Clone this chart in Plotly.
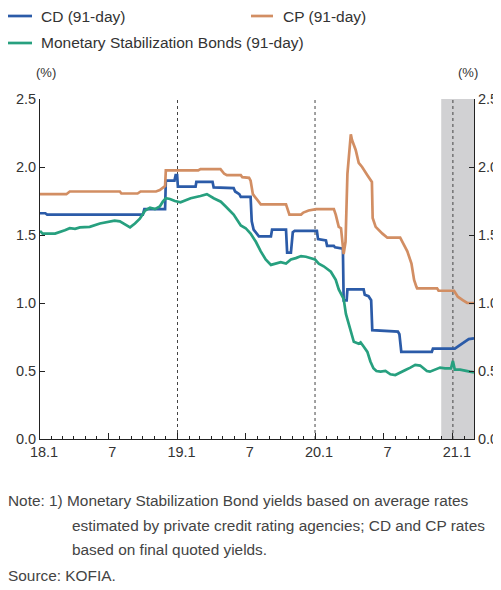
import plotly.graph_objects as go

# CD (91-day)
cd_dates = ['2018-01-01', '2018-01-15', '2018-01-20', '2018-10-01', '2018-10-05', '2018-11-29',
            '2018-12-01', '2018-12-24', '2018-12-27', '2018-12-31', '2019-01-02', '2019-02-18',
            '2019-02-20', '2019-04-04', '2019-04-07', '2019-05-30', '2019-06-03', '2019-06-14',
            '2019-06-18', '2019-07-14', '2019-07-17', '2019-07-22', '2019-08-05', '2019-09-06',
            '2019-09-09', '2019-10-16', '2019-10-19', '2019-10-29', '2019-11-03', '2019-11-08',
            '2020-01-06', '2020-01-09', '2020-01-30', '2020-02-02', '2020-02-20', '2020-02-23',
            '2020-03-15', '2020-03-17', '2020-03-25', '2020-03-27', '2020-05-09', '2020-05-12',
            '2020-05-22', '2020-05-29', '2020-06-01', '2020-08-08', '2020-08-12', '2020-08-17',
            '2020-11-06', '2020-11-09', '2021-01-06', '2021-01-14', '2021-01-22', '2021-02-02',
            '2021-02-12', '2021-02-26']
cd_vals = [1.66, 1.66, 1.65, 1.65, 1.69, 1.69,
           1.90, 1.90, 1.94, 1.94, 1.855, 1.855,
           1.89, 1.89, 1.85, 1.845, 1.82, 1.80,
           1.78, 1.78, 1.60, 1.54, 1.49, 1.49,
           1.54, 1.54, 1.37, 1.37, 1.52, 1.53,
           1.53, 1.47, 1.46, 1.42, 1.42, 1.41,
           1.40, 1.02, 1.02, 1.10, 1.10, 1.06,
           1.05, 1.02, 0.80, 0.79, 0.77, 0.64,
           0.64, 0.665, 0.665, 0.68, 0.70, 0.72,
           0.735, 0.74]

# CP (91-day)
cp_dates = ['2018-01-01', '2018-03-12', '2018-03-21', '2018-08-01', '2018-08-05', '2018-09-17',
            '2018-09-25', '2018-11-05', '2018-11-15', '2018-11-25', '2018-11-29', '2018-12-01',
            '2019-02-25', '2019-03-03', '2019-04-25', '2019-05-05', '2019-05-12', '2019-06-18',
            '2019-06-22', '2019-07-10', '2019-07-14', '2019-07-20', '2019-07-25', '2019-08-05',
            '2019-08-10', '2019-10-16', '2019-10-25', '2019-11-25', '2019-12-01', '2019-12-15',
            '2020-01-04', '2020-02-20', '2020-02-25', '2020-03-04', '2020-03-10', '2020-03-17',
            '2020-03-22', '2020-03-27', '2020-04-05', '2020-04-08', '2020-04-18', '2020-04-26',
            '2020-05-05', '2020-05-19', '2020-05-31', '2020-06-02', '2020-06-10', '2020-06-28',
            '2020-07-11', '2020-08-14', '2020-08-22', '2020-09-02', '2020-09-13', '2020-09-20',
            '2020-09-26', '2020-09-28', '2020-11-20', '2020-11-24', '2021-01-04', '2021-01-14',
            '2021-01-28', '2021-02-08', '2021-02-26']
cp_vals = [1.80, 1.80, 1.82, 1.82, 1.805, 1.805,
           1.82, 1.82, 1.83, 1.855, 1.86, 1.975,
           1.975, 1.985, 1.985, 1.95, 1.94, 1.94,
           1.925, 1.92, 1.90, 1.80, 1.78, 1.745,
           1.725, 1.725, 1.65, 1.65, 1.665, 1.68,
           1.69, 1.69, 1.65, 1.56, 1.55, 1.36,
           1.45, 1.95, 2.24, 2.20, 2.125, 2.03,
           2.00, 1.94, 1.89, 1.625, 1.56, 1.51,
           1.48, 1.48, 1.44, 1.38, 1.29, 1.17,
           1.12, 1.108, 1.108, 1.09, 1.09, 1.046,
           1.02, 1.00, 1.00]

# Monetary Stabilization Bonds (91-day)
msb_dates = ['2018-01-01', '2018-01-08', '2018-02-10', '2018-02-23', '2018-03-08', '2018-03-21',
             '2018-04-04', '2018-04-17', '2018-05-13', '2018-06-09', '2018-07-05', '2018-07-18',
             '2018-08-01', '2018-08-14', '2018-08-28', '2018-09-10', '2018-09-23', '2018-10-07',
             '2018-10-20', '2018-11-02', '2018-11-15', '2018-11-23', '2018-12-01', '2018-12-12',
             '2018-12-25', '2019-01-09', '2019-02-05', '2019-03-03', '2019-03-20', '2019-04-07',
             '2019-04-26', '2019-05-09', '2019-05-30', '2019-06-18', '2019-07-01', '2019-07-14',
             '2019-07-28', '2019-08-10', '2019-08-23', '2019-09-06', '2019-09-19', '2019-10-02',
             '2019-10-16', '2019-10-29', '2019-11-11', '2019-11-25', '2019-12-08', '2019-12-21',
             '2020-01-01', '2020-01-11', '2020-01-24', '2020-02-12', '2020-02-25', '2020-03-04',
             '2020-03-17', '2020-03-23', '2020-03-31', '2020-04-05', '2020-04-13', '2020-04-26',
             '2020-05-01', '2020-05-09', '2020-05-19', '2020-05-27', '2020-06-04', '2020-06-12',
             '2020-06-23', '2020-07-06', '2020-07-19', '2020-08-01', '2020-08-14', '2020-08-28',
             '2020-09-10', '2020-09-23', '2020-10-06', '2020-10-14', '2020-10-24', '2020-11-01',
             '2020-11-14', '2020-11-28', '2020-12-11', '2020-12-27', '2021-01-01', '2021-01-06',
             '2021-01-20', '2021-02-02', '2021-02-15', '2021-02-26']
msb_vals = [1.53, 1.51, 1.51, 1.52, 1.535, 1.55,
            1.545, 1.556, 1.56, 1.585, 1.60, 1.605,
            1.60, 1.58, 1.556, 1.585, 1.62, 1.68,
            1.70, 1.69, 1.71, 1.745, 1.77, 1.765,
            1.75, 1.74, 1.77, 1.787, 1.80, 1.77,
            1.745, 1.71, 1.65, 1.57, 1.55, 1.51,
            1.45, 1.38, 1.32, 1.28, 1.29, 1.30,
            1.29, 1.32, 1.33, 1.345, 1.34, 1.33,
            1.32, 1.29, 1.27, 1.23, 1.17, 1.10,
            1.03, 0.92, 0.84, 0.78, 0.715, 0.70,
            0.71, 0.68, 0.64, 0.57, 0.52, 0.50,
            0.495, 0.50, 0.476, 0.47, 0.49, 0.507,
            0.525, 0.545, 0.54, 0.52, 0.50, 0.495,
            0.51, 0.525, 0.52, 0.52, 0.574, 0.51,
            0.51, 0.50, 0.495, 0.49]

series_names = ['CD (91-day)', 'CP (91-day)', 'Monetary Stabilization Bonds (91-day)']
series_colors = ['#2B5BA8', '#D28E63', '#27A07F']

tick_vals = ['2018-01-01', '2018-07-01', '2019-01-01', '2019-07-01',
             '2020-01-01', '2020-07-01', '2021-01-01']
tick_text = ['18.1', '7', '19.1', '7', '20.1', '7', '21.1']
year_lines = ['2019-01-01', '2020-01-01', '2021-01-01']
shade_start, x_end = '2020-12-01', '2021-02-26'

FONT = 'Liberation Sans, Arial, sans-serif'
TXT = '#333333'

# page body has an 8px margin, so the figure is drawn 8px in from the corner
OFF = 8
W, H = 501 - OFF, 590 - OFF
# plot area in window pixels
L, R, T, B = 40, 474, 99, 439


def px(x):
    return (x - L) / (R - L)


def py(y):
    return (B - y) / (B - T)


fig = go.Figure()
for xs, ys, nm, col in zip([cd_dates, cp_dates, msb_dates], [cd_vals, cp_vals, msb_vals],
                           series_names, series_colors):
    fig.add_trace(go.Scatter(x=xs, y=ys, name=nm, mode='lines', showlegend=False,
                             line=dict(color=col, width=2.7)))
# dummy trace for the right axis
fig.add_trace(go.Scatter(x=[x_end], y=[0], yaxis='y2', mode='markers',
                         marker=dict(opacity=0), showlegend=False, hoverinfo='skip'))

shapes = [dict(type='rect', xref='x', yref='y', x0=shade_start, x1=x_end, y0=0, y1=2.5,
               fillcolor='#D1D1D3', line=dict(width=0), layer='below')]
for d in year_lines:
    shapes.append(dict(type='line', xref='x', yref='y', x0=d, x1=d, y0=0, y1=2.5,
                       line=dict(color='#444444', width=1, dash='dot'), layer='below'))

# legend (drawn by hand so the layout matches)
legend_pos = [(8, 32, 39, 16), (251, 273, 281, 16), (8, 32, 39, 43)]
for (x0, x1, xt, yy), nm, col in zip(legend_pos, series_names, series_colors):
    shapes.append(dict(type='line', xref='paper', yref='paper', x0=px(x0), x1=px(x1),
                       y0=py(yy), y1=py(yy), line=dict(color=col, width=2.7)))
    fig.add_annotation(text=nm, xref='paper', yref='paper', x=px(xt), y=py(yy),
                       xanchor='left', yanchor='middle', showarrow=False,
                       font=dict(size=15.5, color=TXT, family=FONT))

axis_common = dict(range=[0, 2.5], dtick=0.5, tickformat='.1f', ticks='inside', ticklen=5,
                   tickcolor='#222222', showline=True, linecolor='#222222', linewidth=1,
                   showgrid=False, zeroline=False, fixedrange=True, automargin=False,
                   tickfont=dict(size=14.5, color=TXT, family=FONT))

fig.update_layout(
    width=W, height=H,
    margin=dict(l=L - OFF, r=501 - R, t=T - OFF, b=590 - B),
    paper_bgcolor='white', plot_bgcolor='white',
    font=dict(family=FONT, size=14, color=TXT),
    showlegend=False,
    shapes=shapes,
    xaxis=dict(type='date', range=['2018-01-01', x_end], tickvals=tick_vals, ticktext=tick_text,
               ticks='inside', ticklen=6, tickcolor='#222222', showline=True,
               linecolor='#222222', linewidth=1, showgrid=False, zeroline=False,
               automargin=False, ticklabelshift=4,
               tickfont=dict(size=14.5, color=TXT, family=FONT),
               minor=dict(dtick='M1', tick0='2018-01-01', ticks='inside', ticklen=3,
                          tickcolor='#222222', showgrid=False)),
    yaxis=dict(side='left', **axis_common),
    yaxis2=dict(side='right', overlaying='y', **axis_common),
)

for xx in (45.5, 468):
    fig.add_annotation(text='(%)', xref='paper', yref='paper', x=px(xx), y=py(72),
                       xanchor='center', yanchor='middle', showarrow=False,
                       font=dict(size=13, color=TXT, family=FONT))

notes = [
    ('Note: 1) Monetary Stabilization Bond yields based on average rates', 6, 500),
    ('estimated by private credit rating agencies; CD and CP rates', 70, 525),
    ('based on final quoted yields.', 70, 549),
    ('Source: KOFIA.', 6, 575),
]
for txt, xx, yy in notes:
    fig.add_annotation(text=txt, xref='paper', yref='paper', x=px(xx), y=py(yy),
                       xanchor='left', yanchor='middle', showarrow=False,
                       font=dict(size=15.4, color='#444444', family=FONT))

fig.write_html('out.html')
